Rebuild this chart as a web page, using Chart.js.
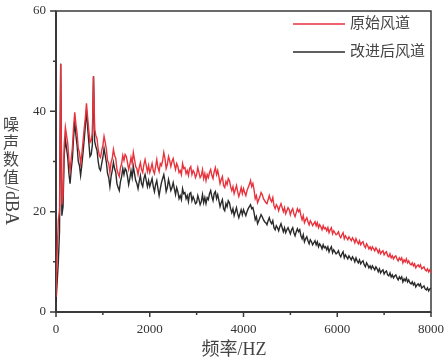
<!DOCTYPE html>
<html>
<head>
<meta charset="utf-8">
<script src="https://cdn.jsdelivr.net/npm/chart.js@4.4.0/dist/chart.umd.min.js"></script>
<style>
  html, body { margin: 0; padding: 0; background: #fff; }
  canvas { display: block; }
</style>
</head>
<body>
<canvas id="noiseChart" width="447" height="362"></canvas>
<script>
// frequency points (Hz), one row = 250 Hz
const freqHz = [
    0,   25,   50,   75,  100,  125,  150,  175,  200,  225,
  250,  275,  300,  325,  350,  375,  400,  425,  450,  475,
  500,  525,  550,  575,  600,  625,  650,  675,  700,  725,
  750,  775,  800,  825,  850,  875,  900,  925,  950,  975,
 1000, 1025, 1050, 1075, 1100, 1125, 1150, 1175, 1200, 1225,
 1250, 1275, 1300, 1325, 1350, 1375, 1400, 1425, 1450, 1475,
 1500, 1525, 1550, 1575, 1600, 1625, 1650, 1675, 1700, 1725,
 1750, 1775, 1800, 1825, 1850, 1875, 1900, 1925, 1950, 1975,
 2000, 2025, 2050, 2075, 2100, 2125, 2150, 2175, 2200, 2225,
 2250, 2275, 2300, 2325, 2350, 2375, 2400, 2425, 2450, 2475,
 2500, 2525, 2550, 2575, 2600, 2625, 2650, 2675, 2700, 2725,
 2750, 2775, 2800, 2825, 2850, 2875, 2900, 2925, 2950, 2975,
 3000, 3025, 3050, 3075, 3100, 3125, 3150, 3175, 3200, 3225,
 3250, 3275, 3300, 3325, 3350, 3375, 3400, 3425, 3450, 3475,
 3500, 3525, 3550, 3575, 3600, 3625, 3650, 3675, 3700, 3725,
 3750, 3775, 3800, 3825, 3850, 3875, 3900, 3925, 3950, 3975,
 4000, 4025, 4050, 4075, 4100, 4125, 4150, 4175, 4200, 4225,
 4250, 4275, 4300, 4325, 4350, 4375, 4400, 4425, 4450, 4475,
 4500, 4525, 4550, 4575, 4600, 4625, 4650, 4675, 4700, 4725,
 4750, 4775, 4800, 4825, 4850, 4875, 4900, 4925, 4950, 4975,
 5000, 5025, 5050, 5075, 5100, 5125, 5150, 5175, 5200, 5225,
 5250, 5275, 5300, 5325, 5350, 5375, 5400, 5425, 5450, 5475,
 5500, 5525, 5550, 5575, 5600, 5625, 5650, 5675, 5700, 5725,
 5750, 5775, 5800, 5825, 5850, 5875, 5900, 5925, 5950, 5975,
 6000, 6025, 6050, 6075, 6100, 6125, 6150, 6175, 6200, 6225,
 6250, 6275, 6300, 6325, 6350, 6375, 6400, 6425, 6450, 6475,
 6500, 6525, 6550, 6575, 6600, 6625, 6650, 6675, 6700, 6725,
 6750, 6775, 6800, 6825, 6850, 6875, 6900, 6925, 6950, 6975,
 7000, 7025, 7050, 7075, 7100, 7125, 7150, 7175, 7200, 7225,
 7250, 7275, 7300, 7325, 7350, 7375, 7400, 7425, 7450, 7475,
 7500, 7525, 7550, 7575, 7600, 7625, 7650, 7675, 7700, 7725,
 7750, 7775, 7800, 7825, 7850, 7875, 7900, 7925, 7950, 7975,
 8000
];

// 原始风道 (dBA)
const originalDb = [
   3.0, 12.0, 18.4, 20.2, 49.5, 21.4, 23.2, 33.4, 36.8, 35.2,
  33.6, 30.4, 28.2, 30.6, 32.8, 36.9, 39.8, 37.4, 35.6, 32.6,
  31.8, 29.6, 31.4, 33.8, 36.4, 38.6, 41.6, 38.8, 36.2, 33.8,
  34.2, 35.6, 47.0, 36.4, 35.2, 34.6, 32.4, 31.2, 30.8, 32.2,
  33.2, 35.0, 33.8, 32.4, 30.2, 29.6, 27.8, 29.8, 30.6, 32.4,
  31.2, 30.6, 28.4, 27.6, 27.0, 28.8, 29.6, 31.2, 30.2, 31.4,
  31.0, 29.8, 28.4, 29.4, 30.8, 29.6, 31.8, 30.4, 29.0, 28.6,
  27.4, 28.8, 29.8, 28.4, 27.8, 29.4, 30.4, 29.2, 28.0, 29.2,
  27.8, 28.6, 29.6, 28.2, 27.6, 29.0, 30.4, 28.8, 28.0, 29.6,
  29.2, 30.2, 31.8, 30.6, 28.6, 29.4, 31.0, 30.2, 29.0, 30.0,
  30.6, 29.4, 28.4, 29.6, 29.0, 27.8, 28.2, 27.4, 29.6, 28.6,
  28.8, 27.6, 28.2, 27.2, 28.6, 29.0, 27.4, 28.2, 27.8, 26.8,
  27.4, 28.8, 27.8, 26.8, 27.2, 28.4, 26.6, 27.6, 26.2, 27.4,
  26.8, 27.8, 28.4, 27.2, 26.6, 28.0, 28.8, 27.4, 28.2, 27.0,
  25.6, 26.4, 27.0, 25.2, 24.8, 26.0, 25.4, 26.6, 26.2, 25.0,
  24.2, 25.0, 23.6, 24.4, 25.2, 24.0, 23.0, 23.8, 24.8, 23.6,
  24.6, 23.8, 23.2, 24.2, 24.8, 25.4, 26.2, 25.0, 25.6, 24.4,
  22.6, 23.2, 21.8, 22.4, 23.0, 23.8, 23.4, 22.6, 22.2, 21.8,
  21.6, 22.4, 23.2, 22.4, 22.0, 22.8, 21.2, 20.6, 21.4, 21.0,
  20.2, 21.0, 21.6, 20.8, 20.0, 20.8, 19.6, 20.2, 20.8, 20.4,
  19.4, 20.2, 20.6, 19.6, 19.0, 19.8, 20.6, 20.0, 20.4, 19.2,
  18.4, 19.2, 17.8, 18.4, 18.8, 18.0, 17.4, 18.2, 17.8, 17.2,
  17.6, 18.0, 17.2, 17.8, 16.8, 17.4, 17.0, 16.4, 17.2, 16.6,
  16.8, 16.2, 16.8, 15.8, 16.4, 16.8, 15.6, 16.2, 15.8, 15.4,
  15.6, 16.0, 15.2, 14.8, 15.4, 15.8, 14.6, 15.2, 14.8, 14.4,
  15.0, 14.6, 14.2, 14.8, 14.4, 13.8, 14.6, 14.0, 13.6, 14.2,
  13.4, 13.8, 14.0, 13.2, 12.8, 13.6, 13.2, 12.6, 13.0, 12.4,
  13.0, 12.6, 12.2, 12.8, 12.4, 11.8, 12.4, 11.6, 12.0, 12.2,
  11.4, 11.8, 12.0, 11.2, 11.0, 11.6, 10.8, 11.2, 10.6, 11.0,
  11.2, 10.6, 10.2, 10.8, 10.4, 10.8,  9.8, 10.4, 10.0, 10.6,
   9.8, 10.2,  9.6,  9.4,  9.8,  9.2,  9.6,  8.8,  9.2,  9.4,
   9.0,  9.4,  8.6,  8.8,  9.0,  8.4,  8.2,  8.6,  8.0,  8.4,
   7.8
];

// 改进后风道 (dBA)
const improvedDb = [
   2.0,  6.0, 10.0, 16.0, 49.5, 19.2, 21.0, 31.2, 34.4, 32.6,
  30.8, 27.6, 25.6, 28.4, 30.6, 34.8, 38.0, 35.2, 33.2, 30.0,
  29.2, 27.2, 29.2, 31.6, 34.2, 37.0, 40.2, 36.8, 33.8, 31.0,
  31.4, 33.2, 47.0, 34.0, 33.0, 32.2, 30.0, 28.6, 28.2, 29.6,
  30.8, 32.6, 31.2, 29.8, 27.6, 26.8, 25.0, 27.0, 28.2, 29.8,
  28.6, 27.8, 25.6, 24.8, 24.2, 26.0, 27.0, 28.6, 27.4, 28.6,
  28.2, 27.0, 25.4, 26.6, 28.2, 26.8, 29.0, 27.6, 26.2, 25.6,
  24.6, 26.0, 27.2, 25.6, 25.0, 26.6, 27.4, 26.2, 25.0, 26.2,
  25.0, 25.8, 26.6, 25.0, 24.0, 25.4, 26.2, 24.6, 23.2, 24.6,
  25.8, 26.6, 27.4, 26.0, 24.0, 24.8, 26.4, 25.4, 24.2, 24.8,
  25.8, 24.6, 23.4, 24.8, 24.0, 22.6, 23.2, 22.4, 24.6, 23.6,
  23.8, 22.6, 23.2, 22.0, 23.6, 23.8, 22.2, 23.0, 22.4, 21.6,
  21.8, 23.2, 22.4, 21.4, 22.0, 23.4, 21.8, 22.8, 21.6, 22.8,
  22.4, 23.6, 24.2, 23.0, 22.2, 23.6, 24.0, 22.6, 23.4, 22.2,
  21.0, 21.8, 22.4, 20.6, 20.2, 21.6, 21.0, 22.2, 21.8, 20.6,
  19.8, 20.6, 19.2, 20.0, 20.8, 19.6, 18.8, 19.6, 20.4, 19.4,
  20.4, 19.8, 19.2, 20.0, 20.6, 21.0, 21.4, 20.6, 20.8, 19.8,
  18.4, 19.0, 17.6, 18.2, 18.8, 19.4, 19.0, 18.4, 18.0, 17.8,
  17.4, 18.2, 18.8, 18.0, 17.6, 18.2, 16.8, 16.4, 17.2, 16.8,
  16.2, 17.0, 17.6, 16.8, 16.0, 16.8, 15.8, 16.4, 16.8, 16.2,
  15.6, 16.4, 16.8, 15.8, 15.2, 16.0, 16.6, 16.0, 16.4, 15.2,
  14.6, 15.4, 14.0, 14.6, 15.0, 14.2, 13.6, 14.4, 14.0, 13.4,
  13.8, 14.2, 13.4, 14.0, 13.0, 13.6, 13.2, 12.6, 13.4, 12.8,
  13.0, 12.4, 13.0, 12.0, 12.6, 13.0, 11.8, 12.4, 12.0, 11.6,
  11.8, 12.2, 11.4, 11.0, 11.6, 12.0, 10.8, 11.4, 11.0, 10.6,
  11.2, 10.8, 10.4, 11.0, 10.6, 10.0, 10.8, 10.2,  9.8, 10.4,
   9.6, 10.0, 10.2,  9.4,  9.0,  9.8,  9.4,  8.8,  9.2,  8.6,
   9.2,  8.8,  8.4,  9.0,  8.6,  8.0,  8.6,  7.8,  8.2,  8.4,
   7.6,  8.0,  8.2,  7.4,  7.2,  7.8,  7.0,  7.4,  6.8,  7.2,
   7.4,  6.8,  6.4,  7.0,  6.6,  7.0,  6.0,  6.6,  6.2,  6.8,
   6.0,  6.4,  5.8,  5.6,  6.0,  5.4,  5.8,  5.0,  5.4,  5.6,
   5.2,  5.6,  4.8,  5.0,  5.2,  4.6,  4.4,  4.8,  4.2,  4.6,
   4.8
];

const seriesNames = ['原始风道', '改进后风道'];
const seriesColors = ['#e8323c', '#2a2a2a'];
const yTitleChars = ['噪', '声', '数', '值'];
const yTitleUnit = '/dBA';
const xTitle = '频率/HZ';

const cjkSerif = '"Liberation Serif", "Noto Sans CJK SC", serif';

// box frame, outward ticks (major longer than minor), titles and legend
const framePlugin = {
    id: 'framePlugin',
    beforeDatasetsDraw(chart) {
        const { ctx, chartArea: a, scales: { x, y } } = chart;
        ctx.save();
        ctx.strokeStyle = '#3a3a3a';
        ctx.lineWidth = 1.5;
        ctx.strokeRect(a.left, a.top, a.width, a.height);
        ctx.lineWidth = 2;
        ctx.beginPath();
        ctx.moveTo(a.left, a.top);
        ctx.lineTo(a.left, a.bottom);
        ctx.lineTo(a.right, a.bottom);
        ctx.stroke();

        ctx.lineWidth = 1.5;
        ctx.beginPath();
        x.ticks.forEach(t => {
            const px = x.getPixelForValue(t.value);
            const len = t.label !== '' ? 5 : 3;
            ctx.moveTo(px, a.bottom);
            ctx.lineTo(px, a.bottom + len);
        });
        y.ticks.forEach(t => {
            const py = y.getPixelForValue(t.value);
            const len = t.label !== '' ? 6 : 3;
            ctx.moveTo(a.left, py);
            ctx.lineTo(a.left - len, py);
        });
        ctx.stroke();
        ctx.restore();
    },
    afterDraw(chart) {
        const { ctx, chartArea: a } = chart;
        ctx.save();

        // y title: stacked characters, unit turned sideways
        ctx.fillStyle = '#444';
        ctx.textAlign = 'center';
        ctx.textBaseline = 'middle';
        ctx.font = '16px "Noto Sans CJK SC", sans-serif';
        yTitleChars.forEach((c, i) => ctx.fillText(c, 11, 124 + i * 17.5));
        ctx.save();
        ctx.translate(11, 186);
        ctx.rotate(Math.PI / 2);
        ctx.textAlign = 'left';
        ctx.font = '18px "Liberation Serif", serif';
        ctx.fillText(yTitleUnit, 0, 0);
        ctx.restore();

        // x title
        ctx.font = '18px ' + cjkSerif;
        ctx.fillText(xTitle, 234, 350);

        // legend
        ctx.textAlign = 'left';
        ctx.font = '15px ' + cjkSerif;
        seriesNames.forEach((name, i) => {
            const ly = 24 + i * 28;
            ctx.strokeStyle = seriesColors[i];
            ctx.lineWidth = 1.5;
            ctx.beginPath();
            ctx.moveTo(a.right - 138, ly);
            ctx.lineTo(a.right - 86, ly);
            ctx.stroke();
            ctx.fillStyle = '#444';
            ctx.fillText(name, a.right - 81, ly);
        });
        ctx.restore();
    }
};

const toPoints = vals => vals.map((v, i) => ({ x: freqHz[i], y: v }));

new Chart(document.getElementById('noiseChart'), {
    type: 'line',
    data: {
        datasets: [
            { label: seriesNames[0], data: toPoints(originalDb), borderColor: seriesColors[0], borderWidth: 1.4, pointRadius: 0, tension: 0 },
            { label: seriesNames[1], data: toPoints(improvedDb), borderColor: seriesColors[1], borderWidth: 1.4, pointRadius: 0, tension: 0 }
        ]
    },
    options: {
        responsive: false,
        animation: false,
        layout: { padding: { left: 0, right: 16, top: 11, bottom: 0 } },
        plugins: { legend: { display: false }, tooltip: { enabled: false } },
        scales: {
            x: {
                type: 'linear', min: 0, max: 8000,
                grid: { display: false, drawTicks: false },
                border: { display: false },
                ticks: {
                    stepSize: 1000, autoSkip: false, maxRotation: 0, padding: 10,
                    color: '#333', font: { family: '"Liberation Serif", serif', size: 13 },
                    callback: v => (v % 2000 === 0 ? String(v) : '')
                },
                afterFit: s => { s.height = 50; s.paddingLeft = 0; s.paddingRight = 0; }
            },
            y: {
                min: 0, max: 60,
                grid: { display: false, drawTicks: false },
                border: { display: false },
                ticks: {
                    stepSize: 10, autoSkip: false, padding: 10,
                    color: '#333', font: { family: '"Liberation Serif", serif', size: 13 },
                    callback: v => (v % 20 === 0 ? String(v) : '')
                },
                afterFit: s => { s.width = 56; s.paddingTop = 0; s.paddingBottom = 0; }
            }
        }
    },
    plugins: [framePlugin]
});
</script>
</body>
</html>
